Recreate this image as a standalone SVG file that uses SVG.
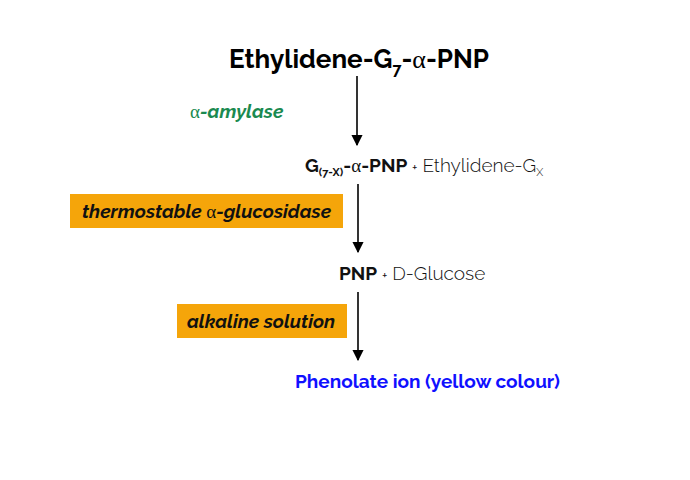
<svg xmlns="http://www.w3.org/2000/svg" width="690" height="480" viewBox="0 0 690 480">
<style>
text{font-family:"Raleway","Lato","Open Sans",sans-serif;fill:#111}
.a{font-family:"Liberation Serif",serif;font-weight:normal;font-style:normal}
.box{fill:#f5a50a}
.lab{font-size:19px;font-style:italic;font-weight:bold}
.ln{stroke:#000;stroke-width:1.6;fill:none}
</style>
<defs><marker id="ar" viewBox="0 0 10 10" refX="9" refY="5" markerWidth="7" markerHeight="8" orient="auto"><path d="M0,0L10,5L0,10z" fill="#000"/></marker></defs>
<rect width="690" height="480" fill="#fff"/>
<g id="connectors">
<line class="ln" x1="357" y1="76" x2="357" y2="145" marker-end="url(#ar)"/>
<line class="ln" x1="358" y1="184" x2="358" y2="252" marker-end="url(#ar)"/>
<line class="ln" x1="358" y1="292" x2="358" y2="360" marker-end="url(#ar)"/>
</g>
<g id="substrate"><text x="359" y="68" text-anchor="middle" font-size="26" font-weight="bold" style="fill:#000">Ethylidene-G<tspan font-size="16" dy="7">7</tspan><tspan dy="-7">-</tspan><tspan class="a">α</tspan>-PNP</text></g>
<g id="amylase"><text x="190" y="118" font-size="19" font-style="italic" font-weight="bold" style="fill:#1a8a50"><tspan class="a" style="fill:#1a8a50">α</tspan>-amylase</text></g>
<g id="intermediate"><text x="305" y="172" font-size="19"><tspan font-weight="bold">G<tspan font-size="11" dy="4">(7-X)</tspan><tspan dy="-4">-</tspan><tspan class="a">α</tspan>-PNP</tspan> <tspan font-size="13">+</tspan> <tspan font-weight="300">Ethylidene-G<tspan font-size="11" dy="4">X</tspan></tspan></text></g>
<g id="glucosidase"><rect class="box" x="70" y="194" width="273" height="34"/><text class="lab" x="82" y="218">thermostable <tspan class="a">α</tspan>-glucosidase</text></g>
<g id="pnp"><text x="339" y="280" font-size="19"><tspan font-weight="bold">PNP</tspan> <tspan font-size="13">+</tspan> <tspan font-weight="300">D-Glucose</tspan></text></g>
<g id="alkaline"><rect class="box" x="177" y="304" width="170" height="34"/><text class="lab" x="187" y="328">alkaline solution</text></g>
<g id="product"><text x="295" y="388" font-size="19" font-weight="bold" style="fill:#1010ff">Phenolate ion (yellow colour)</text></g>
</svg>
